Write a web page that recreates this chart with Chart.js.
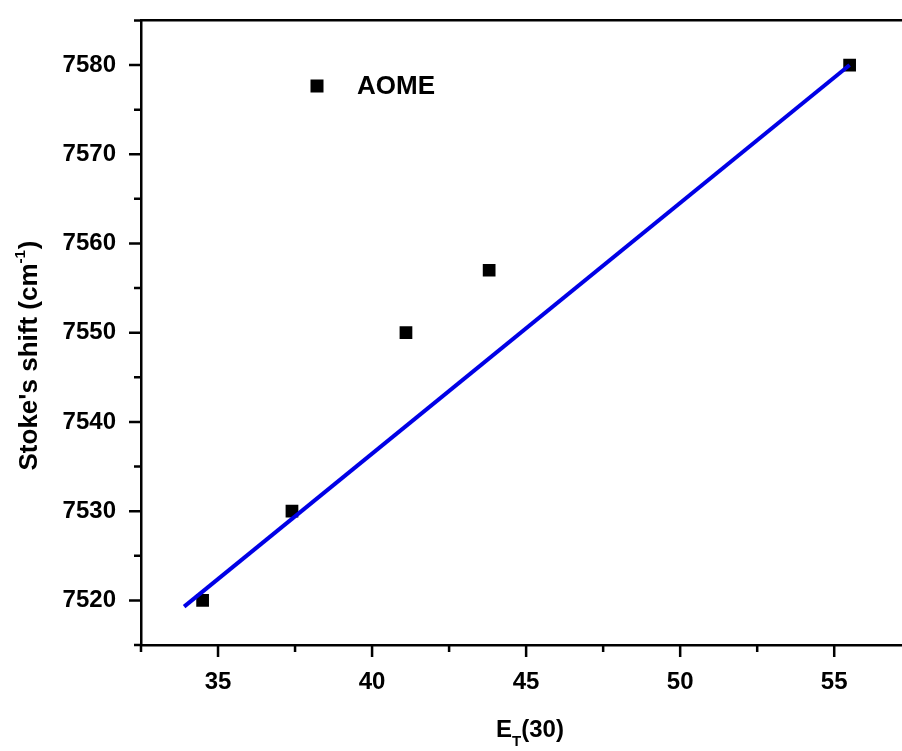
<!DOCTYPE html>
<html>
<head>
<meta charset="utf-8">
<script src="https://cdn.jsdelivr.net/npm/chart.js@4"></script>
<style>
  body { margin: 0; background: #fff; }
  #wrap { width: 902px; height: 751px; overflow: hidden; position: relative; }
  canvas { display: block; position: absolute; left: 0; top: -7px; }
</style>
</head>
<body>
<div id="wrap"><canvas id="myChart" width="911" height="758"></canvas></div>
<script>
const ctx = document.getElementById('myChart').getContext('2d');

// measured points (AOME)
const etValues = [34.5, 37.4, 41.1, 43.8, 55.5];
const shiftValues = [7520, 7530, 7550, 7557, 7580];

// linear fit line ends
const fitX = [33.9, 55.5];
const fitY = [7519.3, 7580];

const xMajor = [35, 40, 45, 50, 55];
const xMinor = [32.5, 37.5, 42.5, 47.5, 52.5];
const yMajor = [7520, 7530, 7540, 7550, 7560, 7570, 7580];
const yMinor = [7515, 7525, 7535, 7545, 7555, 7565, 7575, 7585];

const FONT = '"Liberation Sans", Arial, sans-serif';
const OFF = 7; // canvas is shifted up by this much

function setTicks(major, minor) {
  return (scale) => {
    scale.ticks = major.concat(minor).sort((a, b) => a - b).map(v => ({ value: v }));
  };
}

// tick marks, axis titles and legend
const decor = {
  id: 'decor',
  afterDraw(chart) {
    const c = chart.ctx;
    const area = chart.chartArea;
    const xs = chart.scales.x;
    const ys = chart.scales.y;
    c.save();
    c.strokeStyle = '#000';
    c.lineWidth = 2.5;
    c.beginPath();
    xs.ticks.forEach(t => {
      const px = xs.getPixelForValue(t.value);
      const len = xMajor.includes(t.value) ? 12 : 7;
      c.moveTo(px, area.bottom);
      c.lineTo(px, area.bottom + len);
    });
    ys.ticks.forEach(t => {
      const py = ys.getPixelForValue(t.value);
      const len = yMajor.includes(t.value) ? 12 : 7;
      c.moveTo(area.left, py);
      c.lineTo(area.left - len, py);
    });
    c.stroke();

    c.fillStyle = '#000';
    c.textBaseline = 'alphabetic';

    // x title: E_T(30)
    c.font = 'bold 24px ' + FONT;
    const wE = c.measureText('E').width;
    const w30 = c.measureText('(30)').width;
    c.font = 'bold 15px ' + FONT;
    const wT = c.measureText('T').width;
    let x0 = 530 - (wE + wT + w30) / 2;
    const base = 737 + OFF;
    c.font = 'bold 24px ' + FONT;
    c.fillText('E', x0, base);
    c.font = 'bold 15px ' + FONT;
    c.fillText('T', x0 + wE, base + 9);
    c.font = 'bold 24px ' + FONT;
    c.fillText('(30)', x0 + wE + wT, base);

    // y title: Stoke's shift (cm-1)
    c.translate(37, 356 + OFF);
    c.rotate(-Math.PI / 2);
    c.font = 'bold 26px ' + FONT;
    const a = "Stoke's shift (cm";
    const wa = c.measureText(a).width;
    const wc = c.measureText(')').width;
    c.font = 'bold 15px ' + FONT;
    const wsup = c.measureText('-1').width;
    let s = -(wa + wsup + wc) / 2;
    c.font = 'bold 26px ' + FONT;
    c.fillText(a, s, 0);
    c.font = 'bold 15px ' + FONT;
    c.fillText('-1', s + wa, -12);
    c.font = 'bold 26px ' + FONT;
    c.fillText(')', s + wa + wsup + 1, 0);
    c.restore();

    // legend
    c.save();
    const ds = chart.data.datasets[1];
    c.fillStyle = ds.backgroundColor;
    c.fillRect(317 - 6.5, 86 + OFF - 6.5, 13, 13);
    c.fillStyle = '#000';
    c.font = 'bold 26px ' + FONT;
    c.textBaseline = 'middle';
    c.fillText(ds.label, 357, 87 + OFF);
    c.restore();
  }
};

const myChart = new Chart(ctx, {
  type: 'scatter',
  data: {
    datasets: [{
      label: 'Fit',
      data: fitX.map((x, i) => ({ x: x, y: fitY[i] })),
      showLine: true,
      borderColor: 'rgb(0,0,230)',
      borderWidth: 4,
      pointRadius: 0
    }, {
      label: 'AOME',
      data: etValues.map((x, i) => ({ x: x, y: shiftValues[i] })),
      pointStyle: 'rect',
      pointRadius: 9,
      backgroundColor: '#000',
      borderColor: '#000',
      borderWidth: 0
    }]
  },
  options: {
    responsive: false,
    animation: false,
    layout: { padding: 0 },
    scales: {
      x: {
        type: 'linear',
        position: 'bottom',
        min: 32.5,
        max: 57.2,
        afterBuildTicks: setTicks(xMajor, xMinor),
        afterFit: (s) => { s.height = 106; },
        grid: { display: true, drawOnChartArea: false, drawTicks: true, tickLength: 12, tickColor: 'rgba(0,0,0,0)' },
        border: { display: true, color: '#000', width: 2.5 },
        ticks: {
          autoSkip: false,
          maxRotation: 0,
          padding: 11,
          color: '#000',
          font: { family: FONT, size: 24, weight: 'bold' },
          callback: (v) => xMajor.includes(v) ? String(v) : ''
        }
      },
      x2: {
        type: 'linear',
        position: 'top',
        min: 32.5,
        max: 57.2,
        afterFit: (s) => { s.height = 20; },
        grid: { display: true, drawOnChartArea: false, drawTicks: false },
        border: { display: true, color: '#000', width: 2.5 },
        ticks: { display: false }
      },
      y: {
        type: 'linear',
        min: 7515,
        max: 7585,
        afterBuildTicks: setTicks(yMajor, yMinor),
        afterFit: (s) => { s.width = 141; },
        grid: { display: true, drawOnChartArea: false, drawTicks: true, tickLength: 12, tickColor: 'rgba(0,0,0,0)' },
        border: { display: true, color: '#000', width: 2.5 },
        ticks: {
          autoSkip: false,
          padding: 13,
          color: '#000',
          font: { family: FONT, size: 24, weight: 'bold' },
          callback: (v) => yMajor.includes(v) ? String(v) : ''
        }
      }
    },
    plugins: {
      legend: { display: false },
      title: { display: false },
      tooltip: { enabled: false }
    }
  },
  plugins: [decor]
});
</script>
</body>
</html>
